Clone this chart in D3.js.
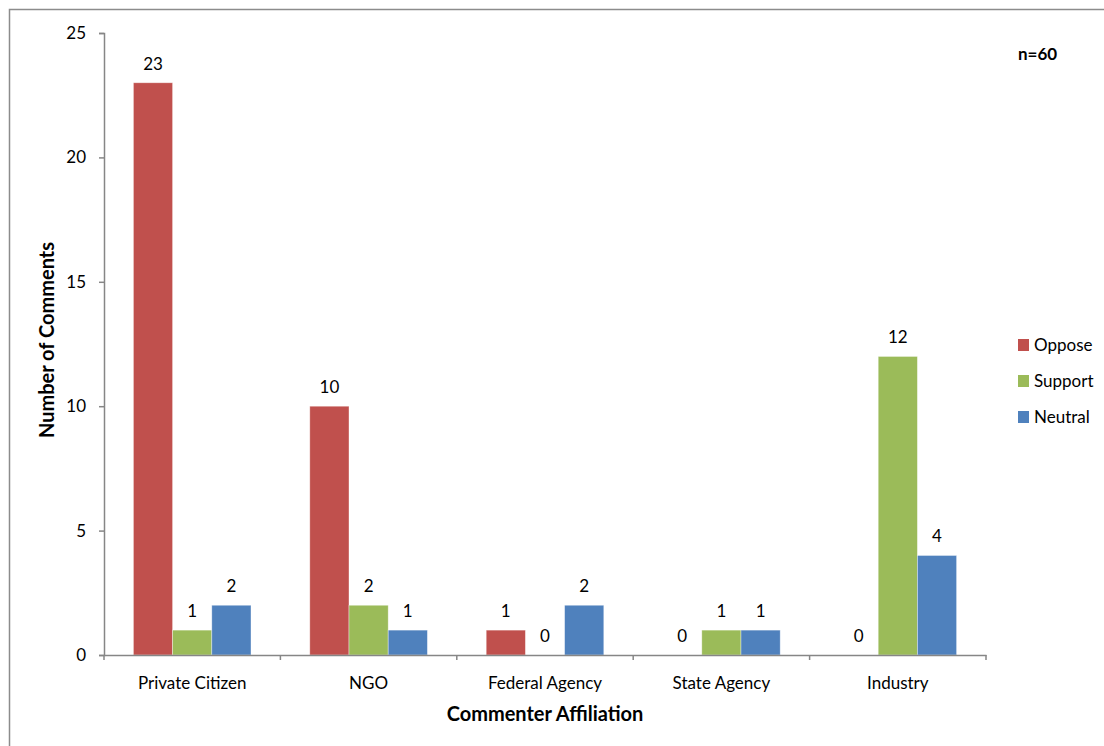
<!DOCTYPE html>
<html>
<head>
<meta charset="utf-8">
<script src="https://cdn.jsdelivr.net/npm/d3@7"></script>
<style>
  body { margin: 0; background: #fff; overflow: hidden; }
  text { font-family: Lato, "Open Sans", sans-serif; fill: #000; }
</style>
</head>
<body>
<div id="chart"></div>
<script>
// data
var categories = ["Private Citizen", "NGO", "Federal Agency", "State Agency", "Industry"];
var seriesNames = ["Oppose", "Support", "Neutral"];
var oppose = [23, 10, 1, 0, 0];
var support = [1, 2, 0, 1, 12];
var neutral = [2, 1, 2, 1, 4];
var yTicks = [0, 5, 10, 15, 20, 25];

var colors = ["#C0504D", "#9BBB59", "#4F81BD"];
var seriesValues = [oppose, support, neutral];

var width = 1104, height = 746;
var plotLeft = 104, plotRight = 986, plotTop = 33, plotBottom = 655;

var svg = d3.select('#chart')
    .append('svg')
    .attr('width', width)
    .attr('height', height);

// outer chart border
svg.append('rect')
    .attr('x', 9.5).attr('y', 9.5)
    .attr('width', 1104).attr('height', 760)
    .attr('fill', 'none')
    .attr('stroke', '#8c8c8c')
    .attr('stroke-width', 1.5);

var x0 = d3.scaleBand()
    .domain(categories)
    .range([plotLeft, plotRight]);

// excel gap width 150% -> 3 bars + 1.5 bar of gap
var x1 = d3.scaleBand()
    .domain(seriesNames)
    .range([0, x0.bandwidth() * 3 / 4.5]);

var y = d3.scaleLinear()
    .domain([0, 25])
    .range([plotBottom, plotTop]);

var groupOffset = (x0.bandwidth() - x1.range()[1]) / 2;

// bars
var data = [];
categories.forEach(function(c, i) {
    seriesNames.forEach(function(s, j) {
        data.push({ cat: c, series: s, value: seriesValues[j][i], color: colors[j] });
    });
});

svg.selectAll('rect.bar')
    .data(data)
    .enter()
    .append('rect')
    .attr('class', 'bar')
    .attr('x', function(d) { return x0(d.cat) + groupOffset + x1(d.series); })
    .attr('y', function(d) { return y(d.value); })
    .attr('width', x1.bandwidth())
    .attr('height', function(d) { return y(0) - y(d.value); })
    .attr('fill', function(d) { return d.color; })
    .attr('stroke', function(d) { return d.value > 0 ? 'rgba(255,255,255,0.5)' : 'none'; })
    .attr('stroke-width', 0.75);

svg.selectAll('text.val')
    .data(data)
    .enter()
    .append('text')
    .attr('class', 'val')
    .attr('x', function(d) { return x0(d.cat) + groupOffset + x1(d.series) + x1.bandwidth() / 2; })
    .attr('y', function(d) { return y(d.value) - 13; })
    .attr('text-anchor', 'middle')
    .style('font-size', '17px')
    .text(function(d) { return d.value; });

// y axis
var yAxis = d3.axisLeft(y)
    .tickValues(yTicks)
    .tickSize(5)
    .tickPadding(13);

var gy = svg.append('g')
    .attr('transform', 'translate(' + plotLeft + ',0)')
    .call(yAxis);
gy.select('.domain').attr('stroke', '#868686').attr('stroke-width', 1.5);
gy.selectAll('.tick line').attr('stroke', '#868686').attr('stroke-width', 1.5);
gy.selectAll('.tick text').style('font-size', '17px').style('font-family', 'Lato, sans-serif').attr('fill', '#000');

// x axis
var xAxis = d3.axisBottom(x0)
    .tickSize(0)
    .tickPadding(22);

var gx = svg.append('g')
    .attr('transform', 'translate(0,' + plotBottom + ')')
    .call(xAxis);
gx.select('.domain').attr('stroke', '#868686').attr('stroke-width', 1.5);
gx.selectAll('.tick line').remove();
gx.selectAll('.tick text').style('font-size', '17px').style('font-family', 'Lato, sans-serif').attr('fill', '#000');

// category separator ticks
var sepTicks = categories.map(function(c) { return x0(c); }).concat([plotRight]);
svg.selectAll('line.sep')
    .data(sepTicks)
    .enter()
    .append('line')
    .attr('class', 'sep')
    .attr('x1', function(d) { return d; })
    .attr('x2', function(d) { return d; })
    .attr('y1', plotBottom)
    .attr('y2', plotBottom + 5)
    .attr('stroke', '#868686')
    .attr('stroke-width', 1.5);

// axis titles
svg.append('text')
    .attr('x', (plotLeft + plotRight) / 2)
    .attr('y', 721)
    .attr('text-anchor', 'middle')
    .style('font-size', '20px')
    .style('font-weight', 'bold')
    .text('Commenter Affiliation');

svg.append('text')
    .attr('transform', 'translate(54,340) rotate(-90)')
    .attr('text-anchor', 'middle')
    .style('font-size', '20px')
    .style('font-weight', 'bold')
    .text('Number of Comments');

svg.append('text')
    .attr('x', 1018)
    .attr('y', 60)
    .style('font-size', '17px')
    .style('font-weight', 'bold')
    .text('n=60');

// legend
var legend = svg.selectAll('g.legend')
    .data(seriesNames)
    .enter()
    .append('g')
    .attr('class', 'legend')
    .attr('transform', function(d, i) { return 'translate(1018,' + (339 + i * 36) + ')'; });

legend.append('rect')
    .attr('width', 11)
    .attr('height', 12)
    .attr('fill', function(d, i) { return colors[i]; });

legend.append('text')
    .attr('x', 16)
    .attr('y', 12)
    .style('font-size', '17px')
    .text(function(d) { return d; });
</script>
</body>
</html>
